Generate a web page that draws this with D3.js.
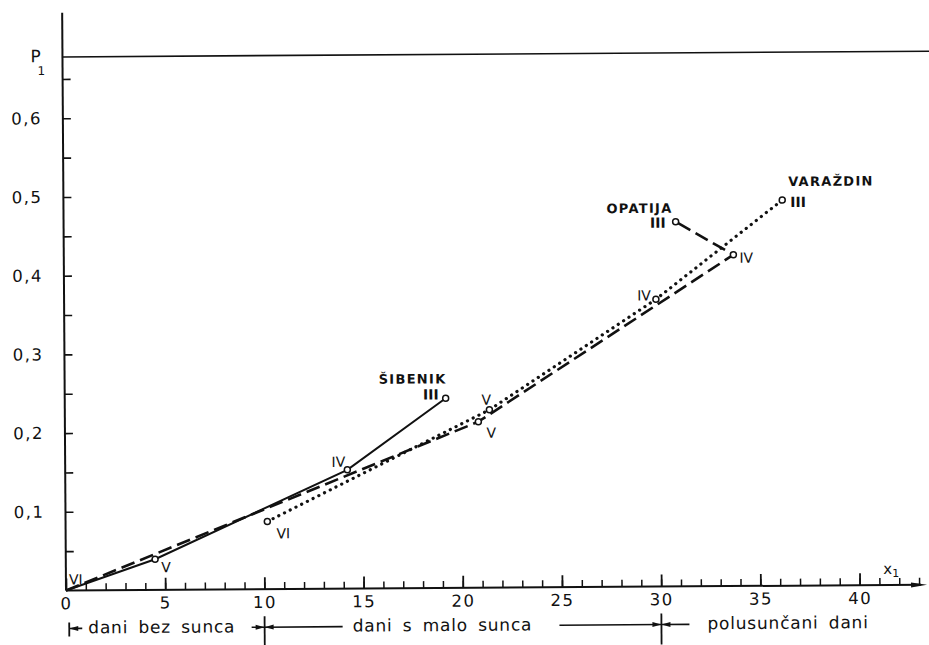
<!DOCTYPE html>
<html>
<head>
<meta charset="utf-8">
<script src="https://cdn.jsdelivr.net/npm/d3@7.9.0/dist/d3.min.js"></script>
<style>
  body { margin: 0; background: #fff; }
  svg text { font-family: "DejaVu Sans", sans-serif; fill: #111; }
  .tick text { font-size: 16.5px; letter-spacing: 1.5px; }
  .city { font-size: 13px; font-weight: bold; letter-spacing: 1.3px; }
  .month { font-size: 14px; }
  .band { font-size: 17px; letter-spacing: 0.8px; word-spacing: 4px; }
</style>
</head>
<body>
<svg id="chart" width="929" height="645"></svg>
<script>
// months of each curve, from June back to March
const months = ['VI', 'V', 'IV', 'III'];

const sibenikX = [0, 4.5, 14.22, 19.2];
const sibenikY = [0, 0.039, 0.151, 0.241];
const opatijaX = [0, 20.84, 33.75, 30.85];
const opatijaY = [0, 0.211, 0.421, 0.4635];
const varazdinX = [10.17, 21.4, 29.83, 36.23];
const varazdinY = [0.086, 0.226, 0.365, 0.49];

const xTickValues = [0, 5, 10, 15, 20, 25, 30, 35, 40];
const yTickValues = [0.1, 0.2, 0.3, 0.4, 0.5, 0.6];
const yTickLabels = ['0,1', '0,2', '0,3', '0,4', '0,5', '0,6'];
const p1Level = 0.678;

const bandBreaks = [0, 10, 30];
const bandLabels = ['dani bez sunca', 'dani s malo sunca', 'polusunčani dani'];

const svg = d3.select('#chart');
const x = d3.scaleLinear().domain([0, 40]).range([66, 859.6]);
const y = d3.scaleLinear().domain([0, 0.6]).range([590.5, 118.3]);

// the scanned sheet is slightly turned
const g = svg.append('g').attr('transform', `rotate(-0.38, ${x(0)}, ${y(0)})`);

// axes
const xMinor = d3.axisBottom(x).tickValues(d3.range(1, 44)).tickSize(-7).tickFormat('');
g.append('g').attr('transform', `translate(0,${y(0)})`).call(xMinor)
  .call(a => a.select('.domain').remove())
  .call(a => a.selectAll('line').attr('stroke', '#111').attr('stroke-width', 1.5));

const xMajor = d3.axisBottom(x).tickValues(xTickValues).tickSize(-12).tickPadding(7).tickFormat(d3.format('d'));
g.append('g').attr('transform', `translate(0,${y(0)})`).call(xMajor)
  .call(a => a.select('.domain').remove())
  .call(a => a.selectAll('line').attr('stroke', '#111').attr('stroke-width', 1.8))
  .call(a => a.selectAll('text').attr('fill', '#111'));

const yAxis = d3.axisLeft(y).tickValues(d3.range(1, 14).map(i => i * 0.05)).tickSize(-8).tickPadding(21)
  .tickFormat(d => {
    const i = yTickValues.findIndex(v => Math.abs(v - d) < 1e-6);
    return i >= 0 ? yTickLabels[i] : '';
  });
g.append('g').attr('transform', `translate(${x(0)},0)`).call(yAxis)
  .call(a => a.select('.domain').remove())
  .call(a => a.selectAll('line').attr('stroke', '#111').attr('stroke-width', 1.6))
  .call(a => a.selectAll('text').attr('fill', '#111'));

g.append('line')
  .attr('x1', x(0)).attr('x2', x(0))
  .attr('y1', y(0)).attr('y2', y(0.734))
  .attr('stroke', '#111').attr('stroke-width', 2);

g.append('line')
  .attr('x1', x(0)).attr('x2', x(43.1))
  .attr('y1', y(0)).attr('y2', y(0))
  .attr('stroke', '#111').attr('stroke-width', 2);
g.append('path')
  .attr('d', `M${x(43.4)},${y(0)} l-16,-2.5 l0,5 z`)
  .attr('fill', '#111');

g.append('text').attr('x', x(41.2)).attr('y', y(0) - 11)
  .style('font-size', '15px')
  .text('x')
  .append('tspan').attr('dy', 3).style('font-size', '11px').text('1');

// P1 level
g.append('line')
  .attr('x1', x(0)).attr('x2', 940)
  .attr('y1', y(p1Level)).attr('y2', y(p1Level))
  .attr('stroke', '#111').attr('stroke-width', 1.6);
g.append('text').attr('x', 34).attr('y', y(p1Level) + 5).style('font-size', '17px').text('P');
g.append('text').attr('x', 41).attr('y', y(p1Level) + 18).style('font-size', '12px').text('1');

// curves
const series = [
  { name: 'ŠIBENIK', xs: sibenikX, ys: sibenikY, dash: null, cap: 'butt', width: 2 },
  { name: 'OPATIJA', xs: opatijaX, ys: opatijaY, dash: '14,6', cap: 'butt', width: 2.6 },
  { name: 'VARAŽDIN', xs: varazdinX, ys: varazdinY, dash: '0.1,6.3', cap: 'round', width: 3.2 }
];

// label placement [dx, dy, anchor] per month, and for the town name (next to III)
const monthOffsets = [
  [[3, -6, 'start'], [6, 13, 'start'], [-2, -3, 'end'], [-7, 1, 'end']],
  [null, [8, 16, 'start'], [6, 8, 'start'], [-10, 6, 'end']],
  [[9, 17, 'start'], [-3, -5, 'middle'], [-5, 1, 'end'], [8, 7, 'start']]
];
const nameOffsets = [[1, -15, 'end'], [-3, -9, 'end'], [6, -14, 'start']];

const line = d3.line().x(d => x(d[0])).y(d => y(d[1]));

series.forEach((s, si) => {
  const pts = s.xs.map((v, i) => [v, s.ys[i]]);
  g.append('path')
    .attr('d', line(pts))
    .attr('fill', 'none')
    .attr('stroke', '#111')
    .attr('stroke-width', s.width)
    .attr('stroke-linecap', s.cap)
    .attr('stroke-dasharray', s.dash);

  pts.forEach((p, i) => {
    if (p[0] > 0) {
      g.append('circle')
        .attr('cx', x(p[0])).attr('cy', y(p[1])).attr('r', 3)
        .attr('fill', '#fff').attr('stroke', '#111').attr('stroke-width', 1.5);
    }
    const off = monthOffsets[si][i];
    if (off) {
      g.append('text').attr('class', 'month')
        .attr('x', x(p[0]) + off[0]).attr('y', y(p[1]) + off[1])
        .attr('text-anchor', off[2])
        .style('font-weight', months[i] === 'III' ? 'bold' : 'normal')
        .text(months[i]);
    }
  });

  const last = pts[pts.length - 1];
  const no = nameOffsets[si];
  g.append('text').attr('class', 'city')
    .attr('x', x(last[0]) + no[0]).attr('y', y(last[1]) + no[1])
    .attr('text-anchor', no[2])
    .text(s.name);
});

// bands of sunshine under the axis
const bandY = y(0) + 38;
const ink = '#111';
function arrowHead(px, dir) {
  g.append('path')
    .attr('d', `M${px},${bandY} l${-dir * 9},-2.5 l0,5 z`)
    .attr('fill', ink);
}
function seg(a, b) {
  g.append('line').attr('x1', a).attr('x2', b).attr('y1', bandY).attr('y2', bandY)
    .attr('stroke', ink).attr('stroke-width', 1.6);
}

const b0 = x(bandBreaks[0]), b1 = x(bandBreaks[1]), b2 = x(bandBreaks[2]);
g.append('line').attr('x1', b0 + 3).attr('x2', b0 + 3).attr('y1', bandY - 6).attr('y2', bandY + 8)
  .attr('stroke', ink).attr('stroke-width', 1.8);
[b1, b2].forEach(b => {
  g.append('line').attr('x1', b).attr('x2', b).attr('y1', bandY - 11).attr('y2', bandY + 20)
    .attr('stroke', ink).attr('stroke-width', 1.8);
});

seg(b0 + 3, b0 + 16); arrowHead(b0 + 3, -1);
seg(b1 - 13, b1); arrowHead(b1, 1);
seg(b1, b1 + 78); arrowHead(b1, -1);
seg(b2 - 102, b2); arrowHead(b2, 1);
seg(b2, b2 + 28); arrowHead(b2, -1);

const bandTextX = [b0 + 22, b1 + 88, b2 + 46];
bandLabels.forEach((t, i) => {
  g.append('text').attr('class', 'band')
    .attr('x', bandTextX[i]).attr('y', bandY + 5)
    .text(t);
});
</script>
</body>
</html>
